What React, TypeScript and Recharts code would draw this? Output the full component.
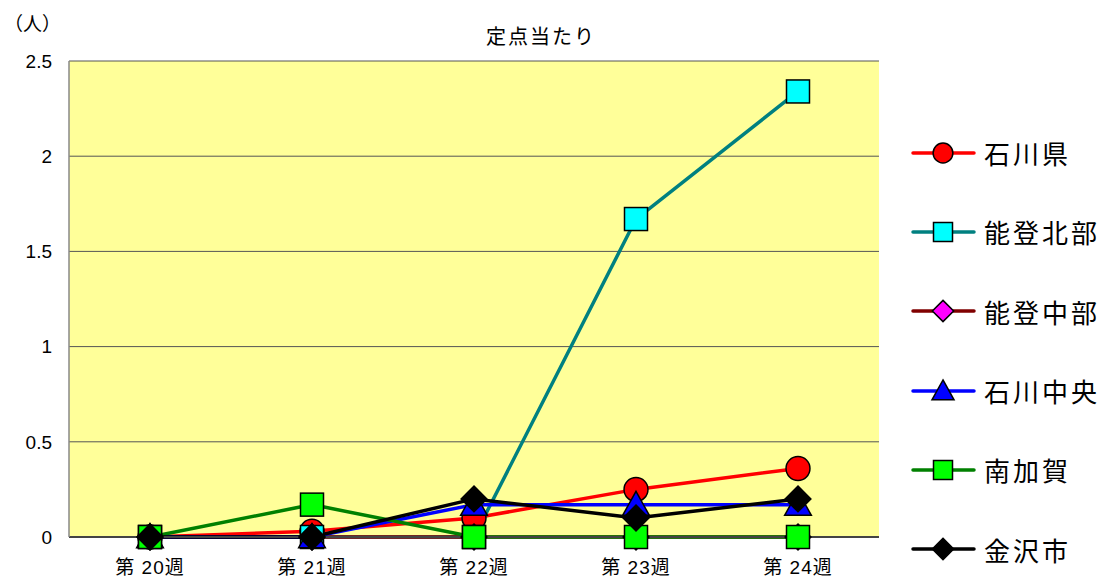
import React from 'react';
import { LineChart, Line, XAxis, YAxis, CartesianGrid } from 'recharts';

const weeks = ['第 20週', '第 21週', '第 22週', '第 23週', '第 24週'];
const ishikawa = [0, 0.03, 0.1, 0.25, 0.36];
const notoNorth = [0, 0, 0, 1.67, 2.34];
const notoCentral = [0, 0, 0, 0, 0];
const ishikawaCentral = [0, 0, 0.17, 0.17, 0.17];
const minamiKaga = [0, 0.17, 0, 0, 0];
const kanazawa = [0, 0, 0.2, 0.1, 0.2];
const yTicks = [0, 0.5, 1, 1.5, 2, 2.5];

const seriesDefs = [
  { key: 'ishikawa', name: '石川県', values: ishikawa, stroke: '#FF0000', fill: '#FF0000', shape: 'circle' },
  { key: 'notoNorth', name: '能登北部', values: notoNorth, stroke: '#008080', fill: '#00FFFF', shape: 'square' },
  { key: 'notoCentral', name: '能登中部', values: notoCentral, stroke: '#800000', fill: '#FF00FF', shape: 'diamond' },
  { key: 'ishikawaCentral', name: '石川中央', values: ishikawaCentral, stroke: '#0000FF', fill: '#0000FF', shape: 'triangle' },
  { key: 'minamiKaga', name: '南加賀', values: minamiKaga, stroke: '#008000', fill: '#00FF00', shape: 'square' },
  { key: 'kanazawa', name: '金沢市', values: kanazawa, stroke: '#000000', fill: '#000000', shape: 'diamond' },
];

const data = weeks.map((w, i) => {
  const row: any = { week: w };
  seriesDefs.forEach((s) => { row[s.key] = s.values[i]; });
  return row;
});

const FONT = '"Liberation Sans", "Noto Sans CJK JP", sans-serif';

function Marker({ shape, cx, cy, fill, size }: any) {
  const s = size;
  if (shape === 'circle') return <circle cx={cx} cy={cy} r={s * 0.52} fill={fill} stroke="#000" strokeWidth={1.5} />;
  if (shape === 'square') return <rect x={cx - s / 2} y={cy - s / 2} width={s} height={s} fill={fill} stroke="#000" strokeWidth={1.5} />;
  if (shape === 'diamond') {
    const h = s * 0.56;
    return <polygon points={`${cx},${cy - h} ${cx + h},${cy} ${cx},${cy + h} ${cx - h},${cy}`} fill={fill} stroke="#000" strokeWidth={1.5} />;
  }
  const h = s * 0.58;
  return <polygon points={`${cx},${cy - h} ${cx + h},${cy + h * 0.8} ${cx - h},${cy + h * 0.8}`} fill={fill} stroke="#000" strokeWidth={1.5} />;
}

const makeDot = (shape: string, fill: string) => (props: any) => {
  const { cx, cy, index } = props;
  if (cx == null || cy == null) return <g key={index} />;
  return <g key={index}><Marker shape={shape} cx={cx} cy={cy} fill={fill} size={23} /></g>;
};

const LegendBlock = () => (
  <div style={{ position: 'absolute', left: 910, top: 113, width: 196, display: 'flex', flexDirection: 'column' }}>
    {seriesDefs.map((s) => (
      <div key={s.key} style={{ display: 'flex', alignItems: 'center', height: 79.3 }}>
        <svg width={66} height={30}>
          <line x1={3} y1={15} x2={64} y2={15} stroke={s.stroke} strokeWidth={3.5} strokeLinecap="round" />
          <Marker shape={s.shape} cx={33} cy={15} fill={s.fill} size={19} />
        </svg>
        <span style={{ marginLeft: 8, fontSize: 26, fontFamily: '"Noto Sans CJK JP", sans-serif', color: '#000', letterSpacing: 3, whiteSpace: 'nowrap' }}>{s.name}</span>
      </div>
    ))}
  </div>
);

export default function App() {
  return (
    <div style={{ position: 'absolute', left: 0, top: 0, width: 1106, height: 581, background: '#fff', fontFamily: FONT }}>
      <div style={{ position: 'absolute', left: 4, top: 9, fontSize: 19, color: '#000', fontFamily: '"Noto Sans CJK JP", sans-serif' }}>（人）</div>
      <div style={{ position: 'absolute', left: 391, width: 300, top: 21, textAlign: 'center', fontSize: 20, letterSpacing: 2, color: '#000', fontFamily: '"Noto Sans CJK JP", sans-serif' }}>定点当たり</div>
      <LineChart width={1106} height={581} data={data} margin={{ top: 61, right: 227, bottom: 0, left: 0 }}>
        <CartesianGrid horizontal vertical={false} fill="#FFFF99" stroke="#555" strokeOpacity={1} />
        <XAxis dataKey="week" scale="band" axisLine={{ stroke: '#444', strokeWidth: 2 }} tickLine={false}
          tick={{ fill: '#000', fontSize: 19, fontFamily: FONT, letterSpacing: 1 }} tickMargin={18} height={44} />
        <YAxis domain={[0, 2.5]} ticks={yTicks} axisLine={{ stroke: '#888', strokeWidth: 1.5 }} tickLine={false}
          tick={{ fill: '#000', fontSize: 19, fontFamily: FONT }} tickMargin={11} width={69} interval={0} />
        <YAxis yAxisId="r" orientation="right" domain={[0, 2.5]} tick={false} tickLine={false} axisLine={{ stroke: '#888', strokeWidth: 1.5 }} width={0} />
        {seriesDefs.map((s) => (
          <Line key={s.key} dataKey={s.key} name={s.name} stroke={s.stroke} strokeWidth={3.5}
            dot={makeDot(s.shape, s.fill)} activeDot={false} isAnimationActive={false} type="linear" />
        ))}
      </LineChart>
      <LegendBlock />
    </div>
  );
}
